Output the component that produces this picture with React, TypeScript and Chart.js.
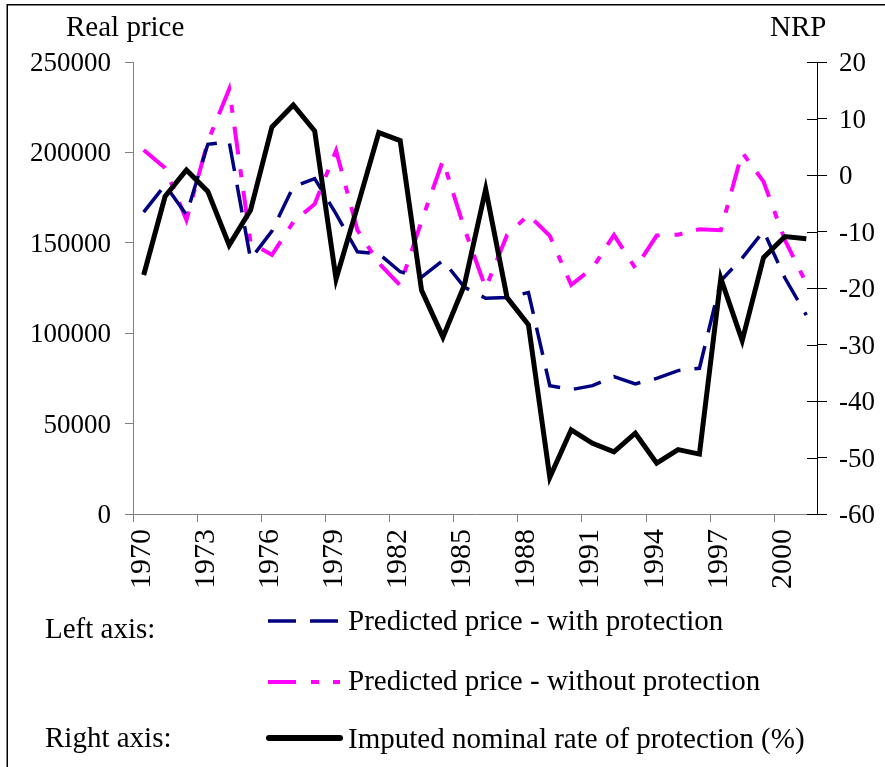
import React, { useEffect, useRef } from 'react';
import { Chart, registerables } from 'chart.js';

Chart.register(...registerables);

const years = [
  '1970', '1971', '1972', '1973', '1974', '1975', '1976', '1977',
  '1978', '1979', '1980', '1981', '1982', '1983', '1984', '1985',
  '1986', '1987', '1988', '1989', '1990', '1991', '1992', '1993',
  '1994', '1995', '1996', '1997', '1998', '1999', '2000', '2001',
];

// Left axis: predicted price with protection
const withProtection = [
  167000, 182000, 165500, 204500, 205800, 141000, 156500, 181000,
  185500, 166000, 145000, 144000, 134000, 131000, 140300, 125500,
  119300, 119800, 122500, 71000, 68800, 71000, 76000, 72000,
  75000, 79300, 80600, 129000, 141500, 156500, 130500, 110000,
];

// Left axis: predicted price without protection
const withoutProtection = [
  201300, 191400, 162600, 206000, 235000, 150000, 143300, 161500,
  171500, 201000, 157000, 138700, 126500, 162000, 195500, 158000,
  125000, 154300, 165400, 153800, 126700, 136000, 154300, 136000,
  154000, 154500, 157500, 157000, 200000, 183800, 151500, 127600,
];

// Right axis: imputed nominal rate of protection (%)
const nrp = [
  -17.7, -3.8, 0.9, -2.9, -12.4, -6.2, 8.5, 12.4,
  7.8, -18.4, -5.6, 7.5, 6.1, -20.4, -28.7, -19.5,
  -2.5, -21.7, -26.5, -53.5, -45.1, -47.5, -49.0, -45.7,
  -51.0, -48.6, -49.4, -18.3, -29.3, -14.6, -10.9, -11.3,
];

const leftTitle = 'Real price';
const rightTitle = 'NRP';
const leftAxisLabel = 'Left axis:';
const rightAxisLabel = 'Right axis:';
const seriesNames = [
  'Predicted price - with protection',
  'Predicted price - without protection',
  'Imputed nominal rate of protection (%)',
];

const FONT = '"Liberation Serif", "Times New Roman", Times, serif';
const NAVY = '#000080';
const MAGENTA = '#FF00FF';
const GREY = '#808080';

const decorPlugin = {
  id: 'decor',
  beforeDraw(chart: any) {
    const ctx = chart.ctx;
    ctx.save();
    ctx.fillStyle = '#ffffff';
    ctx.fillRect(0, 0, chart.width, chart.height);
    ctx.strokeStyle = '#000';
    ctx.lineWidth = 1.5;
    ctx.beginPath();
    ctx.moveTo(7.25, chart.height);
    ctx.lineTo(7.25, 4.75);
    ctx.lineTo(chart.width, 4.75);
    ctx.stroke();
    ctx.restore();
  },
  afterDraw(chart: any) {
    const ctx = chart.ctx;
    ctx.save();
    // inner half of the cross tick marks on the right axis
    const y1 = chart.scales.y1;
    ctx.strokeStyle = '#000';
    ctx.lineWidth = 1;
    y1.ticks.forEach((_t: any, i: number) => {
      const py = Math.round(y1.getPixelForTick(i)) + 0.5;
      ctx.beginPath();
      ctx.moveTo(y1.left - 10, py);
      ctx.lineTo(y1.left, py);
      ctx.stroke();
    });

    // axis titles
    ctx.fillStyle = '#000';
    ctx.font = `29px ${FONT}`;
    ctx.textAlign = 'left';
    ctx.textBaseline = 'alphabetic';
    ctx.fillText(leftTitle, 66, 36);
    ctx.fillText(rightTitle, 770, 36);

    // legend
    ctx.font = `29px ${FONT}`;
    ctx.fillText(leftAxisLabel, 45, 638);
    ctx.fillText(rightAxisLabel, 45, 747);

    const ds = chart.data.datasets;
    const rows = [
      { d: ds[1], y: 621, text: 630 },
      { d: ds[2], y: 682, text: 690 },
      { d: ds[0], y: 738, text: 748 },
    ];
    rows.forEach((r) => {
      ctx.save();
      const solid = r.d === ds[0];
      ctx.strokeStyle = r.d.borderColor;
      ctx.lineWidth = solid ? 6 : r.d.borderWidth;
      ctx.lineCap = solid ? 'round' : 'butt';
      ctx.setLineDash(r.d.borderDash || []);
      ctx.beginPath();
      ctx.moveTo(solid ? 269 : 268, r.y);
      ctx.lineTo(340, r.y);
      ctx.stroke();
      ctx.restore();
      ctx.fillText(r.d.label, 348, r.text);
    });
    ctx.restore();
  },
};

export default function App() {
  const ref = useRef<HTMLCanvasElement | null>(null);

  useEffect(() => {
    if (!ref.current) return;
    const chart = new Chart(ref.current, {
      type: 'line',
      data: {
        labels: years,
        datasets: [
          {
            label: seriesNames[2],
            data: nrp,
            yAxisID: 'y1',
            borderColor: '#000',
            borderWidth: 5,
            pointRadius: 0,
            tension: 0,
            borderJoinStyle: 'miter',
            order: 0,
          },
          {
            label: seriesNames[0],
            data: withProtection,
            yAxisID: 'y',
            borderColor: NAVY,
            borderWidth: 3.5,
            borderDash: [28, 14],
            pointRadius: 0,
            tension: 0,
            order: 1,
          },
          {
            label: seriesNames[1],
            data: withoutProtection,
            yAxisID: 'y',
            borderColor: MAGENTA,
            borderWidth: 4,
            borderDash: [28, 15, 8, 14],
            pointRadius: 0,
            tension: 0,
            order: 2,
          },
        ],
      },
      options: {
        responsive: false,
        animation: false,
        events: [],
        layout: { padding: { top: 62, left: 0, right: 0, bottom: 0 } },
        plugins: {
          legend: { display: false },
          tooltip: { enabled: false },
          title: { display: false },
        },
        scales: {
          x: {
            type: 'category',
            offset: true,
            afterFit: (s: any) => {
              s.height = 253;
            },
            grid: {
              offset: true,
              drawOnChartArea: false,
              drawTicks: true,
              tickLength: 8,
              tickColor: (c: any) =>
                c.index !== undefined && c.index % 3 === 0 ? GREY : 'rgba(0,0,0,0)',
            },
            border: { display: true, color: GREY, width: 1 },
            ticks: {
              autoSkip: false,
              minRotation: 90,
              maxRotation: 90,
              padding: 7,
              labelOffset: -2,
              color: '#000',
              font: { family: FONT, size: 30 },
              callback: (_v: any, i: number) => (i % 3 === 0 ? years[i] : ''),
            },
          },
          y: {
            type: 'linear',
            position: 'left',
            min: 0,
            max: 250000,
            afterFit: (s: any) => {
              s.width = 133;
            },
            grid: {
              drawOnChartArea: false,
              tickLength: 8,
              tickColor: GREY,
            },
            border: { display: true, color: GREY, width: 1 },
            ticks: {
              stepSize: 50000,
              padding: 14,
              labelOffset: 2,
              color: '#000',
              font: { family: FONT, size: 27 },
              callback: (v: any) => String(v),
            },
          },
          y1: {
            type: 'linear',
            position: 'right',
            min: -60,
            max: 20,
            afterFit: (s: any) => {
              s.width = 68;
            },
            grid: {
              drawOnChartArea: false,
              tickLength: 10,
              tickColor: '#000',
            },
            border: { display: true, color: '#000', width: 1 },
            ticks: {
              stepSize: 10,
              padding: 12,
              labelOffset: 2,
              color: '#000',
              font: { family: FONT, size: 27 },
              callback: (v: any) => String(v),
            },
          },
        },
      },
      plugins: [decorPlugin],
    } as any);
    return () => chart.destroy();
  }, []);

  return (
    <div
      style={{
        position: 'fixed',
        left: 0,
        top: 0,
        width: 885,
        height: 767,
        background: '#fff',
        overflow: 'hidden',
      }}
    >
      <canvas ref={ref} width={885} height={767} style={{ display: 'block' }} />
    </div>
  );
}
